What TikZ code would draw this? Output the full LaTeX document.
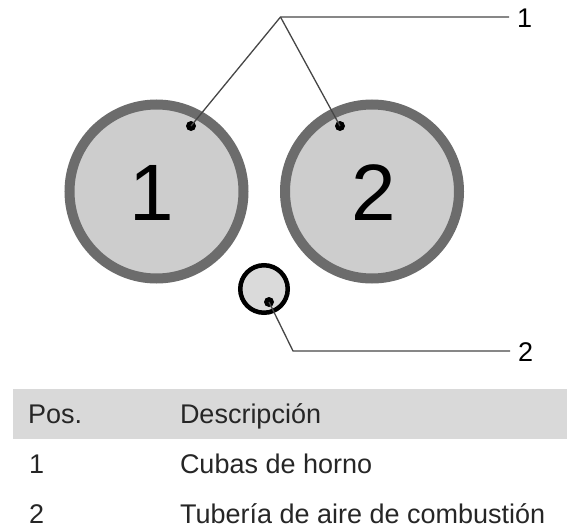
\documentclass[tikz,border=0pt]{standalone}
\usepackage{fontspec}
\setmainfont{Liberation Sans}
\definecolor{ring}{RGB}{108,108,108}
\definecolor{disc}{RGB}{205,205,205}
\definecolor{smalldisc}{RGB}{218,218,218}
\definecolor{band}{RGB}{217,217,217}
\definecolor{leader}{RGB}{70,70,70}
\begin{document}
\begin{tikzpicture}[x=1pt,y=-1pt,
  vessel/.style={circle,draw=ring,line width=10pt,fill=disc,minimum size=174pt,inner sep=0pt,outer sep=0pt},
  pipe/.style={circle,draw=black,line width=4.5pt,fill=smalldisc,minimum size=47.5pt,inner sep=0pt,outer sep=0pt},
  pin/.style={circle,fill=black,minimum size=10pt,inner sep=0pt,outer sep=0pt},
  leaderline/.style={draw=leader,line width=1.3pt},
  big/.style={font=\fontsize{80}{80}\selectfont,inner sep=0pt,outer sep=0pt,anchor=base},
  callout/.style={font=\fontsize{27}{27}\selectfont,inner ysep=0pt,inner xsep=8pt,outer sep=0pt,anchor=base west},
  txt/.style={font=\fontsize{27}{27}\selectfont,inner sep=0pt,outer sep=0pt,anchor=base west,text=black!85},
  headband/.style={fill=band,inner sep=0pt,outer sep=0pt,anchor=north west,minimum width=554pt,minimum height=50pt}]

\useasboundingbox (0,0) rectangle (567,527);

% vessels
\node[vessel] (v1) at (156.5,191.5) {};
\node[vessel] (v2) at (372,191.5) {};
\node[big] (n1) at (152,220) {1};
\node[big] (n2) at (373.5,220) {2};

% combustion air pipe
\node[pipe] (p) at (264,289) {};

% callout labels
\node[callout] (l1) at (509,27.5) {1};
\node[callout] (l2) at (510,361.5) {2};
\coordinate (apex) at (280.5,17);
\coordinate (bend) at (293,351);

% leaders
\node[pin] (d1) at (191,126) {};
\node[pin] (d2) at (340,126) {};
\node[pin] (d3) at (269,302) {};
\draw[leaderline] (d1.center) -- (apex) -- (apex -| l1.west);
\draw[leaderline] (d2.center) -- (apex);
\draw[leaderline] (d3.center) -- (bend) -- (bend -| l2.west);

% table
\node[headband] (head) at (13,389) {};
\node[txt] (h1) at (28,423) {Pos.};
\node[txt] (h2) at (180,423) {Descripción};
\node[txt] (r1a) at (29,473) {1};
\node[txt] (r1b) at (180,473) {Cubas de horno};
\node[txt] (r2a) at (29,523) {2};
\node[txt] (r2b) at (180,523) {Tubería de aire de combustión};
\end{tikzpicture}
\end{document}
